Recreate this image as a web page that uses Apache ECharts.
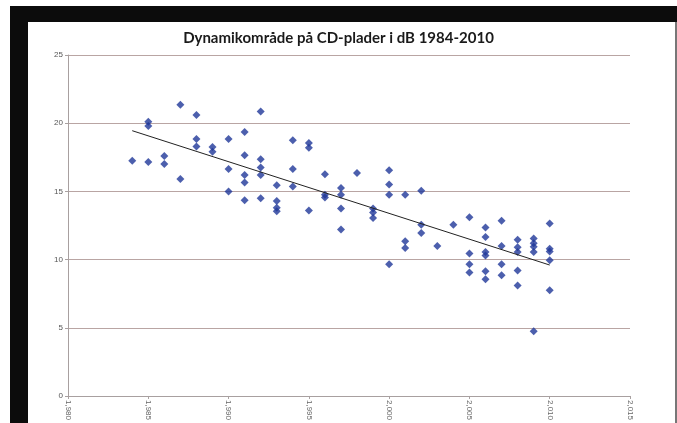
<!DOCTYPE html>
<html lang="da">
<head>
    <meta charset="UTF-8">
    <title>Dynamikområde</title>
    <script src="https://cdn.jsdelivr.net/npm/echarts@6/dist/echarts.min.js"></script>
    <style>
        html, body { margin: 0; padding: 0; background: #fff; }
    </style>
</head>
<body>
    <div id="main" style="width: 677px;height:423px;"></div>

    <script type="text/javascript">
        // data: one year and one dB value per point
        var years = [
            1984,
            1985, 1985, 1985,
            1986, 1986,
            1987, 1987,
            1988, 1988, 1988,
            1989, 1989,
            1990, 1990, 1990,
            1991, 1991, 1991, 1991, 1991,
            1992, 1992, 1992, 1992, 1992,
            1993, 1993, 1993, 1993,
            1994, 1994, 1994,
            1995, 1995, 1995,
            1996, 1996, 1996,
            1997, 1997, 1997, 1997,
            1998,
            1999, 1999, 1999,
            2000, 2000, 2000, 2000,
            2001, 2001, 2001,
            2002, 2002, 2002,
            2003,
            2004,
            2005, 2005, 2005, 2005,
            2006, 2006, 2006, 2006, 2006, 2006,
            2007, 2007, 2007, 2007,
            2008, 2008, 2008, 2008, 2008,
            2009, 2009, 2009, 2009, 2009,
            2010, 2010, 2010, 2010, 2010
        ];
        var dB = [
            17.25,
            20.1, 19.8, 17.15,
            17.6, 17.0,
            21.35, 15.9,
            20.6, 18.85, 18.3,
            18.25, 17.9,
            18.85, 16.65, 15.0,
            19.35, 17.65, 16.2, 15.65, 14.35,
            20.85, 17.35, 16.75, 16.2, 14.5,
            15.45, 14.3, 13.8, 13.55,
            18.75, 16.65, 15.35,
            18.55, 18.2, 13.6,
            16.25, 14.75, 14.55,
            15.25, 14.75, 13.75, 12.2,
            16.35,
            13.75, 13.45, 13.05,
            16.55, 15.5, 14.75, 9.65,
            14.75, 11.35, 10.85,
            15.05, 12.55, 11.95,
            11.0,
            12.55,
            13.1, 10.45, 9.65, 9.05,
            12.35, 11.65, 10.55, 10.3, 9.15, 8.55,
            12.85, 11.0, 9.65, 8.85,
            11.45, 10.9, 10.55, 9.2, 8.1,
            11.55, 11.2, 10.95, 10.55, 4.75,
            12.65, 10.8, 10.6, 9.95, 7.75
        ];
        // trendline end points
        var trendYears = [1984, 2010];
        var trendValues = [19.45, 9.6];

        var points = years.map(function (y, i) { return [y, dB[i]]; });
        var trend = trendYears.map(function (y, i) { return [y, trendValues[i]]; });

        var myChart = echarts.init(document.getElementById('main'));

        var option = {
            animation: false,
            backgroundColor: '#fff',
            title: {
                text: 'Dynamikområde på CD-plader i dB 1984-2010',
                left: 'center',
                top: 26,
                textStyle: {
                    fontFamily: 'Lato',
                    fontWeight: 'bold',
                    fontSize: 15,
                    color: '#1a1a1a'
                }
            },
            graphic: [
                // black frame of the photographed screen
                { type: 'rect', shape: { x: 10, y: 6, width: 667, height: 16 }, style: { fill: '#0c0c0c' }, z: 100 },
                { type: 'rect', shape: { x: 10, y: 6, width: 18, height: 417 }, style: { fill: '#0c0c0c' }, z: 100 },
                { type: 'rect', shape: { x: 675, y: 22, width: 2, height: 401 }, style: { fill: '#777' }, z: 100 }
            ],
            grid: {
                left: 68,
                right: 47,
                top: 55,
                bottom: 27
            },
            xAxis: {
                type: 'value',
                min: 1980,
                max: 2015,
                interval: 5,
                splitLine: { show: false },
                axisLine: { lineStyle: { color: '#a8a0a0' } },
                axisTick: { length: 3, lineStyle: { color: '#a8a0a0' } },
                axisLabel: {
                    rotate: -90,
                    fontSize: 8,
                    color: '#666',
                    margin: 4,
                    fontFamily: 'Liberation Sans'
                }
            },
            yAxis: {
                type: 'value',
                min: 0,
                max: 25,
                interval: 5,
                axisLine: { show: true, lineStyle: { color: '#a8a0a0' } },
                axisTick: { show: true, length: 3, lineStyle: { color: '#a8a0a0' } },
                splitLine: { lineStyle: { color: '#b9a5a3', width: 1 } },
                axisLabel: {
                    fontSize: 8,
                    color: '#555',
                    margin: 5,
                    fontFamily: 'Liberation Sans'
                }
            },
            series: [
                {
                    name: 'dB',
                    type: 'scatter',
                    symbol: 'diamond',
                    symbolSize: 8,
                    itemStyle: { color: '#1f3798' },
                    data: points
                },
                {
                    name: 'trend',
                    type: 'line',
                    symbol: 'none',
                    lineStyle: { color: '#222', width: 1 },
                    data: trend,
                    z: 3
                }
            ]
        };

        myChart.setOption(option);
    </script>
</body>
</html>
